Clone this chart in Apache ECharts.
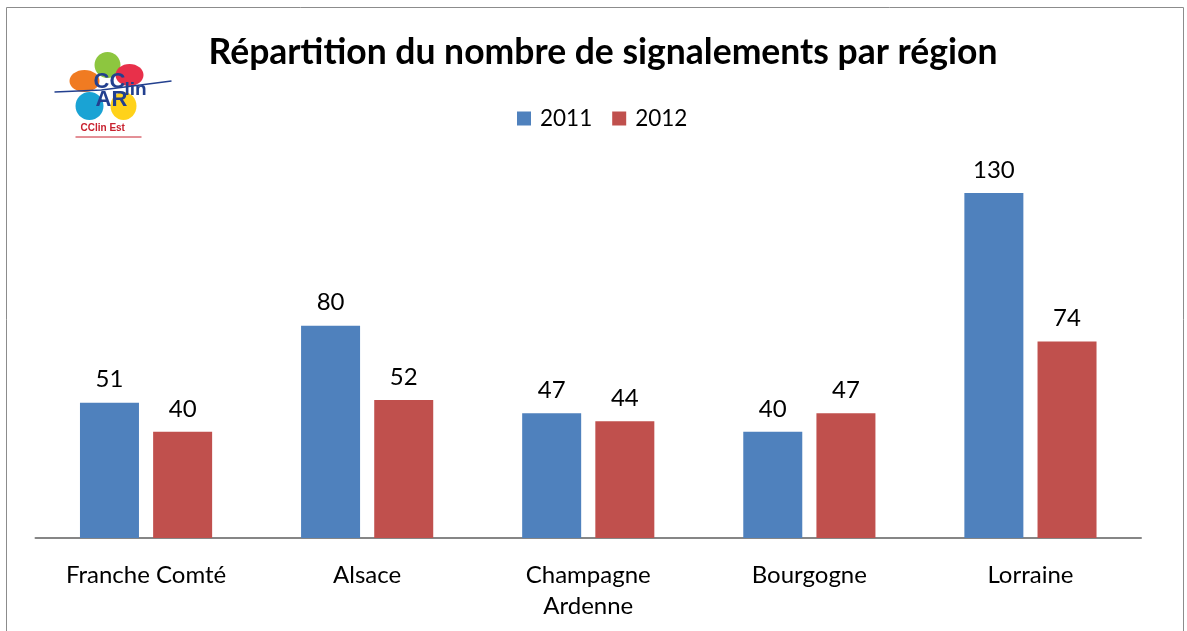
<!DOCTYPE html>
<html>
<head>
<meta charset="utf-8">
<script src="https://cdn.jsdelivr.net/npm/echarts@6/dist/echarts.min.js"></script>
<style>
html,body{margin:0;padding:0;background:#fff;}
#c{width:1187px;height:631px;}
</style>
</head>
<body>
<div id="c"></div>
<script>
const categories = ['Franche Comté', 'Alsace', 'Champagne\nArdenne', 'Bourgogne', 'Lorraine'];
const seriesNames = ['2011', '2012'];
const values2011 = [51, 80, 47, 40, 130];
const values2012 = [40, 52, 44, 47, 74];
const titleText = 'Répartition du nombre de signalements par région';

const FONT = 'Lato, "Open Sans", sans-serif';
const chart = echarts.init(document.getElementById('c'));

const labelStyle = {
  show: true, position: 'top', distance: 11,
  color: '#000', fontSize: 24, fontFamily: FONT
};

chart.setOption({
  backgroundColor: '#fff',
  animation: false,
  title: {
    text: titleText,
    left: 598, textAlign: 'center', top: 30,
    textStyle: { fontFamily: FONT, fontWeight: 'bold', fontSize: 35.5, color: '#000' }
  },
  legend: {
    data: seriesNames,
    left: 512, top: 102,
    itemWidth: 14, itemHeight: 14, itemGap: 20,
    icon: 'rect',
    textStyle: { fontFamily: FONT, fontSize: 22.5, color: '#000', padding: [0, 0, 0, 4] }
  },
  grid: { left: 35.5, right: 1187 - 1141, top: 538 - 140 * (345 / 130), bottom: 631 - 538, containLabel: false },
  xAxis: {
    type: 'category',
    data: categories,
    axisLine: { lineStyle: { color: '#868686', width: 2 } },
    axisTick: { show: false },
    axisLabel: { margin: 22, fontFamily: FONT, fontSize: 24, color: '#000', lineHeight: 31, interval: 0 }
  },
  yAxis: {
    type: 'value', min: 0, max: 140, interval: 20,
    show: false,
    splitLine: { show: false }
  },
  series: [
    { name: seriesNames[0], type: 'bar', data: values2011, barWidth: 59, barGap: '24%',
      itemStyle: { color: '#4F81BD' }, label: labelStyle },
    { name: seriesNames[1], type: 'bar', data: values2012, barWidth: 59, barGap: '24%',
      itemStyle: { color: '#C0504D' }, label: labelStyle }
  ],
  graphic: [
    { type: 'rect', shape: { x: 6.5, y: 7.5, width: 1177, height: 640 },
      style: { fill: 'none', stroke: '#8c8c8c', lineWidth: 1 }, silent: true },
    // logo (approximation)
    { type: 'group', left: 52, top: 52, silent: true, children: [
      { type: 'ellipse', shape: { cx: 56, cy: 14, rx: 13, ry: 13 }, style: { fill: '#8dc63f' } },
      { type: 'ellipse', shape: { cx: 78, cy: 24, rx: 14, ry: 11 }, style: { fill: '#e8304a' } },
      { type: 'ellipse', shape: { cx: 33, cy: 30, rx: 15, ry: 11 }, style: { fill: '#f07b22' } },
      { type: 'ellipse', shape: { cx: 38, cy: 55, rx: 14, ry: 14 }, style: { fill: '#1aa3d4' } },
      { type: 'ellipse', shape: { cx: 72, cy: 55, rx: 13, ry: 14 }, style: { fill: '#ffd21a' } },
      { type: 'polyline', shape: { points: [[3, 41], [50, 39], [120, 30]] }, style: { stroke: '#23408f', lineWidth: 1.5, fill: 'none' } },
      { type: 'text', x: 42, y: 20, style: { text: 'CC', fontSize: 22, fontWeight: 'bold', fill: '#23408f', fontFamily: 'Liberation Sans Narrow, Liberation Sans' } },
      { type: 'text', x: 44, y: 38, style: { text: 'AR', fontSize: 22, fontWeight: 'bold', fill: '#23408f', fontFamily: 'Liberation Sans Narrow, Liberation Sans' } },
      { type: 'text', x: 73, y: 29, style: { text: 'lin', fontSize: 19, fontWeight: 'bold', fill: '#23408f', fontFamily: 'Liberation Sans' } },
      { type: 'text', x: 29, y: 72, style: { text: 'CClin Est', fontSize: 10, fontWeight: 'bold', fill: '#c8202e', fontFamily: 'Liberation Sans' } },
      { type: 'line', shape: { x1: 24, y1: 86, x2: 90, y2: 86 }, style: { stroke: '#c8202e', lineWidth: 1 } }
    ]}
  ]
});
</script>
</body>
</html>
